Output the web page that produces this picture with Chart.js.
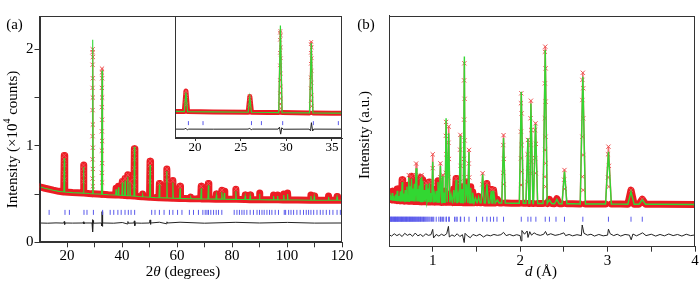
<!DOCTYPE html>
<html lang="en">
<head>
<meta charset="UTF-8">
<title>Rietveld refinement</title>
<script src="https://cdn.jsdelivr.net/npm/chart.js"></script>
<style>
  body { margin: 0; background: #fff; }
  #wrap { position: relative; width: 700px; height: 283px; overflow: hidden; }
  canvas { position: absolute; top: 0; }
</style>
</head>
<body>
<div id="wrap">
  <canvas id="chartA" width="360" height="283" style="left:0"></canvas>
  <canvas id="chartB" width="350" height="283" style="left:350px"></canvas>
  <canvas id="inset" width="200" height="160" style="left:160px"></canvas>
</div>
<script>
const SERIF = '"Liberation Serif", "Times New Roman", serif';
const RED = 'rgb(236,28,36)';
const CROSS = 'rgb(238,84,84)';
const GREEN = 'rgb(50,215,50)';
const BLUE = 'rgb(90,90,235)';
const BLACK = '#222';

// ---------- panel (a): 2theta scan, intensity in 10^4 counts ----------
const bgA = [[10,0.575],[12,0.56],[15,0.54],[17,0.528],[22,0.515],[28,0.505],[35,0.493],[46,0.475],[52,0.463],
  [63,0.453],[67,0.45],[80,0.445],[93,0.44],[104,0.438],[113,0.435],[120,0.435]];
// [position, background under peak, observed top, calculated top]
const peaksA = [
  [19.0,0.522,0.90,0.87],[26.0,0.510,0.80,0.78],[29.35,0.503,2.00,2.10],[32.73,0.498,1.80,1.78],
  [37.85,0.490,0.56,0.55],[38.7,0.489,0.58,0.57],[40.1,0.487,0.63,0.62],[41.1,0.485,0.66,0.64],
  [42.1,0.483,0.70,0.68],[42.9,0.482,0.63,0.62],[44.5,0.479,0.97,0.99],[47.5,0.472,0.50,0.49],
  [50.2,0.467,0.84,0.80],[53.6,0.462,0.61,0.60],[56.3,0.460,0.76,0.74],[58.5,0.457,0.64,0.62],
  [61.1,0.455,0.58,0.56],[65.0,0.452,0.47,0.465],[68.8,0.450,0.58,0.56],[71.4,0.449,0.61,0.59],
  [74.3,0.447,0.50,0.49],[76.3,0.447,0.54,0.52],[77.2,0.446,0.53,0.51],[81.4,0.445,0.55,0.53],
  [84.8,0.443,0.49,0.48],[86.6,0.442,0.49,0.48],[90.0,0.441,0.51,0.50],[95.1,0.440,0.49,0.48],
  [96.6,0.440,0.49,0.48],[98.8,0.439,0.50,0.49],[100.2,0.439,0.51,0.50],[108.7,0.436,0.49,0.48],
  [109.9,0.436,0.48,0.475],[115.1,0.435,0.48,0.47],[118.2,0.435,0.475,0.47]
];
// single observed points visible on the peak flanks
const crossA = [
  [19.0,0.90],[18.95,0.86],[19.05,0.80],[18.95,0.72],[19.05,0.65],
  [26.0,0.80],[25.95,0.76],[26.05,0.70],[25.95,0.63],
  [29.35,2.00],[29.3,1.97],[29.4,1.92],[29.3,1.84],[29.4,1.70],[29.3,1.60],[29.4,1.50],[29.3,1.37],
  [29.4,1.22],[29.3,1.10],[29.4,0.98],[29.3,0.86],[29.4,0.76],[29.3,0.66],[29.4,0.58],
  [32.73,1.80],[32.68,1.76],[32.78,1.70],[32.68,1.60],[32.78,1.50],[32.68,1.40],[32.78,1.27],
  [32.68,1.15],[32.78,1.05],[32.68,0.95],[32.78,0.82],[32.68,0.72],[32.78,0.62],
  [40.1,0.63],[41.1,0.66],[42.1,0.70],[42.9,0.63],
  [44.5,0.97],[44.45,0.93],[44.55,0.86],[44.45,0.77],[44.55,0.67],[44.45,0.58],
  [50.2,0.84],[50.15,0.80],[50.25,0.72],[50.15,0.63],
  [53.6,0.61],[56.3,0.76],[56.25,0.71],[56.35,0.64],[58.5,0.64],[61.1,0.58],[68.8,0.58],[71.4,0.61],
  [76.3,0.54],[81.4,0.55]
];
const braggA = [13.5,19.27,20.87,26.18,27.27,29.6,32.96,35.7,37.0,38.5,39.7,41.1,42.3,43.3,44.6,
  50.8,52.0,53.6,55.3,57.25,58.5,60.2,61.8,64.5,66.0,67.8,69.4,70.25,70.9,71.45,72.3,73.3,74.25,75.1,76.3,
  80.8,81.8,82.7,83.6,84.4,85.4,86.6,87.8,89.1,90.0,90.9,91.7,92.7,93.65,94.5,95.7,96.9,99.0,99.5,
  100.6,101.45,102.4,103.6,104.8,106.0,107.0,107.85,108.7,109.7,110.9,112.1,113.1,114.3,115.5,116.7,118.2,119.4];
const braggYA = 0.31;
const diffA = [[10,0.200],[13,0.198],[16,0.201],[18.8,0.199],[19.0,0.215],[19.15,0.185],[19.3,0.200],[22,0.199],
  [25.8,0.200],[26.0,0.212],[26.15,0.190],[26.3,0.200],[29.1,0.200],[29.25,0.235],[29.38,0.108],[29.5,0.225],
  [29.65,0.198],[32.5,0.200],[32.65,0.170],[32.75,0.318],[32.88,0.165],[33.0,0.200],[37,0.198],[40.1,0.205],
  [42.0,0.190],[42.15,0.215],[42.3,0.198],[44.35,0.200],[44.5,0.222],[44.65,0.172],[44.8,0.200],[47,0.198],
  [50.05,0.200],[50.2,0.232],[50.35,0.185],[50.5,0.200],[53.6,0.208],[56.2,0.192],[56.35,0.212],[56.5,0.200],
  [61.1,0.208],[70,0.198],[81.4,0.207],[90,0.200],[100.2,0.206],[110,0.199],[120,0.200]];
const xTicksA = [20,30,40,50,60,70,80,90,100,110,120];
const xLabelsA = [20,40,60,80,100,120];
const yTicksA = [0,0.5,1,1.5,2];
const yLabelsA = [0,1,2];
const insetTicks = [20,25,30,35];

// ---------- panel (b): d spacing, arbitrary units ----------
const bgB = [[0.5,20.5],[0.6,20.0],[0.75,19.7],[0.9,19.5],[1.2,19.2],[1.5,19.0],[1.9,18.8],[2.4,18.6],
  [2.6,18.6],[2.9,18.5],[3.15,18.45],[3.6,18.4],[4.0,18.3]];
const peaksB = [
  [0.52,20.4,21.8,21.3],[0.537,20.3,24.0,23.2],[0.555,20.2,22.6,22.0],[0.575,20.1,23.2,22.6],
  [0.594,20.0,25.0,24.2],[0.612,20.0,22.6,22.0],[0.63,19.9,24.6,24.0],[0.65,19.9,29.0,28.0],
  [0.668,19.9,23.6,23.0],[0.685,19.8,25.0,24.5],[0.705,19.8,26.5,26.0],[0.726,19.8,31.0,30.0],
  [0.742,19.7,27.0,26.2],[0.757,19.7,30.5,29.5],[0.775,19.7,26.0,25.2],[0.79,19.6,28.0,27.2],
  [0.81,19.6,36.0,34.0],[0.828,19.6,25.5,25.0],[0.845,19.6,27.0,26.5],[0.86,19.5,30.0,29.5],
  [0.873,19.5,31.0,30.2],[0.886,19.5,29.0,28.5],[0.905,19.5,25.0,24.5],[0.925,19.5,27.5,27.0],
  [0.945,19.4,26.0,25.2],[0.962,19.4,28.0,27.5],[0.98,19.4,24.0,23.2],[1.0,19.4,40.0,36.8],
  [1.02,19.3,23.0,22.5],[1.04,19.3,25.0,24.2],[1.06,19.3,28.5,28.0],[1.088,19.3,36.1,35.0],
  [1.114,19.2,31.0,30.5],[1.13,19.2,24.0,23.5],[1.153,19.2,54.0,55.6],[1.183,19.2,52.0,49.1],
  [1.21,19.2,23.0,22.5],[1.24,19.1,25.0,24.5],[1.267,19.1,29.5,28.9],[1.29,19.1,23.0,22.5],
  [1.316,19.1,48.4,48.0],[1.335,19.1,26.0,25.0],[1.362,19.0,79.4,82.3],[1.385,19.0,28.0,27.0],
  [1.415,19.0,41.9,41.0],[1.435,19.0,26.0,25.5],[1.457,19.0,23.8,23.4],[1.49,19.0,21.5,21.0],
  [1.525,19.0,21.8,21.5],[1.571,19.0,31.8,31.2],[1.62,18.9,27.4,27.0],[1.67,18.9,24.8,24.2],
  [1.696,18.9,24.5,24.2],[1.74,18.9,20.5,20.2],[1.81,18.9,48.3,47.0],[2.013,18.8,66.4,67.1],
  [2.089,18.8,46.2,47.0],[2.123,18.7,63.2,62.0],[2.176,18.7,53.4,53.0],[2.287,18.7,86.6,85.2],
  [2.335,18.7,20.5,20.3],[2.42,18.6,20.8,20.5],[2.507,18.6,33.2,32.5],[2.717,18.5,75.3,73.6],
  [3.01,18.5,43.3,41.1],[3.268,18.4,24.5,23.8],[3.397,18.4,20.6,20.3]
];
const crossB = [
  [0.65,29],[0.726,31],[0.757,30.5],[0.81,36],[0.81,31],[0.86,30],[0.873,31],[0.925,27.5],[0.962,28],
  [1.0,40],[1.0,34],[1.0,28],[1.088,36.1],[1.088,30],[1.114,31],
  [1.153,54],[1.15,48],[1.156,40],[1.15,32],[1.183,52],[1.18,45],[1.186,38],[1.18,30],
  [1.267,29.5],[1.316,48.4],[1.313,42],[1.319,35],[1.313,28],
  [1.362,79.4],[1.359,72],[1.365,64],[1.359,55],[1.365,46],[1.359,38],[1.365,30],
  [1.415,41.9],[1.412,36],[1.418,30],[1.571,31.8],[1.568,27],[1.62,27.4],[1.67,24.8],[1.696,24.5],
  [1.81,48.3],[1.807,44],[1.813,38],[1.807,32],[1.813,27],
  [2.013,66.4],[2.009,62.1],[2.017,57.7],[2.009,49.8],[2.017,44.0],[2.009,38.3],[2.017,32.5],[2.009,26.7],
  [2.089,46.2],[2.085,40],[2.093,34],[2.085,28],
  [2.123,63.2],[2.119,55.6],[2.127,50.5],[2.119,44.0],[2.127,36.8],[2.119,31.8],
  [2.176,53.4],[2.172,50.5],[2.18,44.5],[2.172,38.3],[2.18,31.8],
  [2.287,86.6],[2.283,84.4],[2.291,77.2],[2.283,70.7],[2.291,62.8],[2.283,55.6],[2.291,47.6],
  [2.283,41.9],[2.291,36.1],[2.283,30.3],[2.291,26.0],
  [2.507,33.2],[2.503,29],[2.511,25],
  [2.717,75.3],[2.712,72.2],[2.722,68.6],[2.712,63.5],[2.722,55.6],[2.712,47.6],[2.722,39.7],[2.712,30.3],[2.722,24.5],
  [3.01,43.3],[3.005,40],[3.015,35],[3.005,30],[3.015,26],[3.268,24.5],[3.397,20.6]
];
const braggB = [0.503,0.509,0.514,0.52,0.527,0.531,0.538,0.545,0.55,0.556,0.563,0.569,0.574,0.58,0.587,
  0.593,0.598,0.605,0.611,0.617,0.624,0.63,0.636,0.643,0.648,0.655,0.662,0.668,0.674,0.681,0.688,0.694,
  0.70,0.707,0.714,0.72,0.727,0.734,0.74,0.747,0.754,0.76,0.768,0.775,0.782,0.79,0.797,0.805,0.812,0.82,
  0.828,0.836,0.844,0.852,0.86,0.868,0.877,0.886,0.895,0.904,0.914,0.924,0.935,0.946,0.958,0.97,0.985,
  1.0,1.012,1.04,1.07,1.088,1.096,1.114,1.126,1.153,1.156,1.183,1.19,1.25,1.267,1.28,1.316,1.32,1.362,
  1.415,1.50,1.571,1.62,1.66,1.696,1.735,1.81,2.013,2.089,2.123,2.18,2.287,2.335,2.41,2.507,2.717,
  3.01,3.268,3.397];
const braggYB = 11.9;
const diffB = [[0.5,5.2],[0.53,4.6],[0.56,5.6],[0.59,4.8],[0.62,5.4],[0.65,4.4],[0.68,5.8],[0.71,4.9],
  [0.74,5.5],[0.77,4.5],[0.8,5.9],[0.83,4.7],[0.86,5.3],[0.89,4.4],[0.92,5.6],[0.95,4.9],[0.98,5.2],
  [1.0,7.5],[1.01,3.8],[1.04,5.3],[1.07,4.6],[1.1,5.4],[1.13,4.8],[1.16,5.6],[1.18,8.8],[1.19,4.2],
  [1.22,5.1],[1.25,4.5],[1.28,5.6],[1.31,4.4],[1.34,5.2],[1.36,1.8],[1.37,5.8],[1.4,4.6],[1.43,3.9],
  [1.46,5.3],[1.5,4.7],[1.54,5.4],[1.58,4.2],[1.62,5.1],[1.66,4.7],[1.7,5.3],[1.74,4.9],[1.78,5.2],
  [1.81,6.2],[1.84,4.8],[1.88,5.3],[1.92,4.7],[1.96,5.2],[2.0,4.8],[2.01,2.5],[2.02,7.0],[2.05,5.4],
  [2.08,6.8],[2.09,4.0],[2.11,6.5],[2.13,5.0],[2.16,6.0],[2.19,5.3],[2.23,4.9],[2.27,5.4],[2.29,6.6],
  [2.31,5.0],[2.35,5.6],[2.4,4.9],[2.45,5.3],[2.5,6.0],[2.52,4.8],[2.56,5.3],[2.6,4.7],[2.65,5.2],
  [2.7,4.8],[2.71,9.4],[2.73,5.8],[2.77,5.0],[2.81,5.4],[2.85,4.6],[2.9,5.3],[2.95,4.7],[3.0,5.0],
  [3.01,7.6],[3.03,5.6],[3.07,4.8],[3.11,5.4],[3.15,4.6],[3.2,5.3],[3.25,5.0],[3.27,3.0],[3.29,5.5],
  [3.33,4.7],[3.37,5.4],[3.4,6.0],[3.44,4.8],[3.5,5.4],[3.55,4.6],[3.6,5.3],[3.65,4.7],[3.7,5.5],
  [3.75,4.8],[3.8,5.3],[3.85,4.6],[3.9,5.4],[3.95,4.8],[4.0,5.1]];
const xTicksB = [1,1.5,2,2.5,3,3.5,4];
const xLabelsB = [1,2,3,4];

// ---------- helpers ----------
const pts = arr => arr.map(p => ({x: p[0], y: p[1]}));

// background points plus a foot-top-foot triple for every peak
function profile(bg, peaks, col, hw) {
  const out = bg.filter(b => !peaks.some(p => Math.abs(b[0] - p[0]) < hw(p[0])))
    .map(b => ({x: b[0], y: b[1]}));
  peaks.forEach(p => {
    const w = hw(p[0]);
    out.push({x: p[0] - w, y: p[1]}, {x: p[0], y: p[col]}, {x: p[0] + w, y: p[1]});
  });
  return out.sort((a, b) => a.x - b.x);
}

function rietveldSets(o) {
  const steep = ctx => Math.abs(ctx.p1.y - ctx.p0.y) > o.steep;
  return [
    { data: o.calc, showLine: true, borderColor: GREEN, borderWidth: o.calcW, pointRadius: 0, order: 0 },
    { data: o.cross, pointStyle: 'crossRot', pointRadius: o.crossR, borderColor: CROSS, borderWidth: 1,
      backgroundColor: CROSS, order: 1 },
    { data: o.obs, showLine: true, borderColor: RED, borderWidth: o.bandW, pointRadius: 0,
      borderJoinStyle: 'round', borderCapStyle: 'round', order: 2,
      segment: {
        borderWidth: ctx => steep(ctx) ? 1.5 : undefined,
        borderColor: ctx => steep(ctx) ? 'rgba(238,60,60,0.75)' : undefined
      } },
    { data: o.bragg, pointStyle: 'line', rotation: 90, pointRadius: o.braggR, borderColor: BLUE,
      borderWidth: 1, order: 3 },
    { data: o.diff, showLine: true, borderColor: BLACK, borderWidth: 1, pointRadius: 0, order: 4 }
  ];
}

const framePlugin = {
  id: 'frame',
  afterDraw(chart) {
    const {ctx, chartArea: a} = chart;
    const l = Math.round(a.left) + 0.5, t = Math.round(a.top) + 0.5;
    const r = Math.round(a.right) - 0.5, b = Math.round(a.bottom) - 0.5;
    ctx.save();
    ctx.strokeStyle = '#333';
    ctx.lineWidth = 1;
    ctx.strokeRect(l, t, r - l, b - t);
    ctx.restore();
  }
};

const whitePlugin = {
  id: 'white',
  beforeDraw(chart) {
    const {ctx, chartArea: a} = chart;
    ctx.save();
    ctx.fillStyle = '#fff';
    ctx.fillRect(a.left, a.top, a.right - a.left, a.bottom - a.top);
    ctx.restore();
  }
};

// text made of runs with their own font (italic symbols, superscript)
function textPlugin(items) {
  return {
    id: 'texts',
    afterDraw(chart) {
      const ctx = chart.ctx;
      items.forEach(it => {
        ctx.save();
        ctx.translate(it.x, it.y);
        if (it.rot) ctx.rotate(it.rot);
        ctx.textBaseline = 'middle';
        ctx.fillStyle = '#000';
        let total = 0;
        it.runs.forEach(r => { ctx.font = r.font; total += ctx.measureText(r.t).width; });
        let x = -total / 2;
        it.runs.forEach(r => {
          ctx.font = r.font;
          ctx.fillText(r.t, x, r.dy || 0);
          x += ctx.measureText(r.t).width;
        });
        ctx.restore();
      });
    }
  };
}

const F15 = '15px ' + SERIF;
const I15 = 'italic 15px ' + SERIF;

function axisX(min, max, tickVals, labelVals, height, size, tl) {
  return {
    type: 'linear', min: min, max: max,
    afterFit: s => { s.height = height; },
    afterBuildTicks: s => { s.ticks = tickVals.map(v => ({value: v})); },
    ticks: { autoSkip: false, maxRotation: 0, padding: 0, color: '#000',
      font: { family: SERIF, size: size, lineHeight: size < 14 ? 1 : 1.2 },
      callback: v => labelVals.includes(v) ? String(v) : '' },
    grid: { drawOnChartArea: false, tickLength: tl, color: '#333' },
    border: { color: '#333' }
  };
}

Chart.defaults.font.family = SERIF;
const common = {
  responsive: false, animation: false, devicePixelRatio: 1,
  plugins: { legend: { display: false }, tooltip: { enabled: false } }
};

const hwA = () => 0.18;
const calcA = profile(bgA, peaksA, 3, hwA);
const obsA = profile(bgA, peaksA, 2, hwA);
const braggPtsA = braggA.map(x => ({x: x, y: braggYA}));

new Chart(document.getElementById('chartA'), {
  type: 'scatter',
  data: { datasets: rietveldSets({ calc: calcA, obs: obsA, cross: pts(crossA), bragg: braggPtsA,
    diff: pts(diffA), calcW: 1.1, bandW: 7, crossR: 3, braggR: 2.5, steep: 60 }) },
  options: Object.assign({}, common, {
    layout: { padding: { left: 0, top: 16, right: 18, bottom: 0 } },
    scales: {
      x: axisX(10, 120, xTicksA, xLabelsA, 40.7, 15, 5),
      y: {
        type: 'linear', min: 0, max: 2.345,
        afterFit: s => { s.width = 39.5; },
        afterBuildTicks: s => { s.ticks = yTicksA.map(v => ({value: v})); },
        ticks: { padding: 1, color: '#000', font: { family: SERIF, size: 15 },
          callback: v => yLabelsA.includes(v) ? String(v) : '' },
        grid: { drawOnChartArea: false, tickLength: 5, color: '#333' },
        border: { color: '#333' }
      }
    }
  }),
  plugins: [framePlugin, textPlugin([
    { x: 14.5, y: 25, runs: [{t: '(a)', font: F15}] },
    { x: 12.7, y: 139.5, rot: -Math.PI / 2, runs: [
      {t: 'Intensity (\u00d710', font: F15}, {t: '4', font: '10px ' + SERIF, dy: -5},
      {t: ' counts)', font: F15}] },
    { x: 183, y: 272, runs: [{t: '2', font: F15}, {t: '\u03b8', font: I15}, {t: ' (degrees)', font: F15}] }
  ])]
});

new Chart(document.getElementById('inset'), {
  type: 'scatter',
  data: { datasets: rietveldSets({ calc: calcA, obs: obsA, cross: pts(crossA), bragg: braggPtsA,
    diff: pts(diffA), calcW: 1.2, bandW: 5, crossR: 2.5, braggR: 2, steep: 50 }) },
  options: Object.assign({}, common, {
    layout: { padding: { left: 15, top: 16, right: 18, bottom: 0 } },
    scales: {
      x: axisX(17.8, 36.1, insetTicks, insetTicks, 22, 13, 3),
      y: {
        type: 'linear', min: 0.037, max: 2.276,
        afterFit: s => { s.width = 0; },
        ticks: { display: false },
        grid: { drawOnChartArea: false, drawTicks: false },
        border: { color: '#333' }
      }
    }
  }),
  plugins: [whitePlugin, framePlugin]
});

const hwB = d => 0.011 * d;
new Chart(document.getElementById('chartB'), {
  type: 'scatter',
  data: { datasets: rietveldSets({ calc: profile(bgB, peaksB, 3, hwB), obs: profile(bgB, peaksB, 2, hwB),
    cross: pts(crossB), bragg: braggB.map(x => ({x: x, y: braggYB})), diff: pts(diffB),
    calcW: 1.4, bandW: 7, crossR: 3, braggR: 2.5, steep: 25 }) },
  options: Object.assign({}, common, {
    layout: { padding: { left: 39, top: 15.7, right: 5, bottom: 0 } },
    scales: {
      x: axisX(0.5, 4, xTicksB, xLabelsB, 36.3, 15, 5),
      y: {
        type: 'linear', min: 0, max: 100,
        afterFit: s => { s.width = 0; },
        ticks: { display: false },
        grid: { drawOnChartArea: false, drawTicks: false },
        border: { color: '#333' }
      }
    }
  }),
  plugins: [framePlugin, textPlugin([
    { x: 16, y: 25, runs: [{t: '(b)', font: F15}] },
    { x: 15, y: 135, rot: -Math.PI / 2, runs: [{t: 'Intensity (a.u.)', font: F15}] },
    { x: 191, y: 272, runs: [{t: 'd', font: I15}, {t: ' (\u00c5)', font: F15}] }
  ])]
});
</script>
</body>
</html>
